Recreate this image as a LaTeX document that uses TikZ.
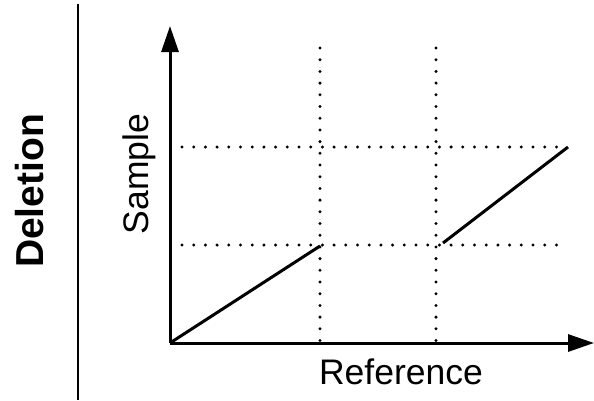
\documentclass[tikz,border=0pt]{standalone}
\usepackage{fontspec}
\setmainfont{Liberation Sans}
\usetikzlibrary{arrows.meta}
\begin{document}
\begin{tikzpicture}[x=1pt,y=-1pt,
  axis/.style={line width=3pt,-{Triangle[length=26pt,width=17pt]}},
  curve/.style={line width=3pt},
  dots/.style={line width=3.3pt,line cap=round,dash pattern=on 0pt off 11.7pt},
  sep/.style={line width=2.2pt},
  lbl/.style={inner sep=0pt,font=\fontsize{35.5}{42}\selectfont},
  title/.style={inner sep=0pt,font=\fontsize{39}{46}\selectfont\bfseries}]
\useasboundingbox (0,0) rectangle (594,400);
% named points
\coordinate (septop) at (78,4);
\coordinate (sepbot) at (78,400);
\coordinate (O) at (170,343);
\coordinate (ytip) at (170,26);
\coordinate (xtip) at (594,343);
\coordinate (v1top) at (320,48);
\coordinate (v1bot) at (320,343);
\coordinate (v2top) at (436,48);
\coordinate (v2bot) at (436,343);
\coordinate (h1l) at (182,147);
\coordinate (h1r) at (568,147);
\coordinate (h2l) at (182,245);
\coordinate (h2r) at (560,245);
\coordinate (a1) at (320,246);
\coordinate (b0) at (443,243);
\coordinate (b1) at (568,147);
% separator
\draw[sep] (septop) -- (sepbot);
% dotted grid
\draw[dots] (v1top) -- (v1bot);
\draw[dots] (v2top) -- (v2bot);
\draw[dots] (h1l) -- (h1r);
\draw[dots] (h2l) -- (h2r);
% axes
\draw[axis] (O) -- (ytip);
\draw[axis] (O) -- (xtip);
% data lines
\draw[curve] (O) -- (a1);
\draw[curve] (b0) -- (b1);
% labels
\node[title,rotate=90] (del) at (30,191) {Deletion};
\node[lbl,rotate=90] (samp) at (139,174) {Sample};
\node[lbl] (ref) at (401,372) {Reference};
\end{tikzpicture}
\end{document}
